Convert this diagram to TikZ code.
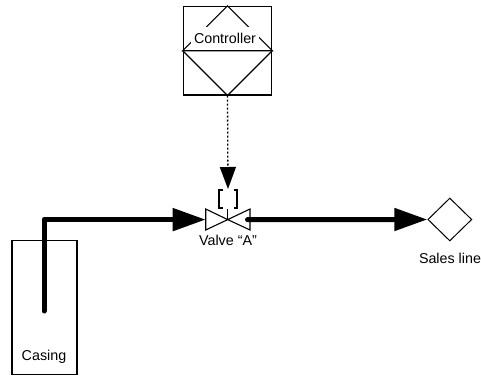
\documentclass[tikz,border=0pt]{standalone}
\usepackage{fontspec}
\setmainfont{Liberation Sans}
\usetikzlibrary{arrows.meta,shapes.geometric}
\tikzset{
  outline/.style={draw=black,line width=1.1pt},
  lbl/.style={inner sep=0pt,font=\fontsize{14.3}{16}\selectfont},
  pipe/.style={draw=black,line width=5pt,line cap=round,line join=round},
  flow/.style={-{Triangle[length=33pt,width=22pt]}},
  signal/.style={draw=black,line width=1.3pt,dash pattern=on 2pt off 2pt,-{Triangle[length=22pt,width=16pt]}}
}
\begin{document}
\begin{tikzpicture}[x=1pt,y=-1pt]
\useasboundingbox (0,0) rectangle (481,375);
% controller
\node[outline,minimum size=88.5pt,inner sep=0pt] (ctrl) at (227.5,50.7) {};
\draw[outline] (ctrl.west) -- (ctrl.north) -- (ctrl.east) -- cycle;
\draw[outline] (ctrl.west) -- (ctrl.south) -- (ctrl.east);
\node[lbl,fill=white,text width=68pt,align=center,text height=16pt,text depth=1pt] (ctrltxt) at (225,35.5) {Controller};
% casing
\node[outline,minimum width=65pt,minimum height=133.5pt,inner sep=0pt] (casing) at (44.5,307.5) {};
\node[lbl] (casingtxt) at (44,357) {Casing};
% valve
\coordinate (vc) at (227.7,219.6);
\coordinate (vl) at (205.7,219.6);
\coordinate (vr) at (250,219.6);
\draw[outline,line join=miter] (vc) -- (205.7,209) -- (205.7,230) -- cycle;
\draw[outline,line join=miter] (vc) -- (250,209) -- (250,230) -- cycle;
\draw[outline] (vc) -- (227.7,208.5) coordinate (stem);
\draw[outline] (222.5,190) -- (219,190) -- (219,208) -- (222.5,208);
\draw[outline] (233.5,190) -- (237,190) -- (237,208) -- (233.5,208);
\coordinate (brk) at (228,189);
\node[lbl] (valvetxt) at (228,240.5) {Valve “A”};
% sales line
\node[draw=black,line width=1pt,shape=diamond,inner sep=0pt,minimum width=44pt,minimum height=43pt] (sales) at (449.8,219.5) {};
\node[lbl] (salestxt) at (450,258) {Sales line};
% connectors
\coordinate (wellend) at (44,311);
\draw[pipe] (wellend) |- ([xshift=-20pt]vl);
\draw[pipe,line cap=butt,flow] (150,219.6) -- (vl);
\coordinate (vout) at (247.5,219.6);
\draw[pipe] (vout) -- ([xshift=-25pt]sales.west);
\draw[pipe,line cap=butt,flow] ([xshift=-25pt]sales.west) -- (sales.west);
\draw[signal] (ctrl.south) -- (brk);
\end{tikzpicture}
\end{document}
